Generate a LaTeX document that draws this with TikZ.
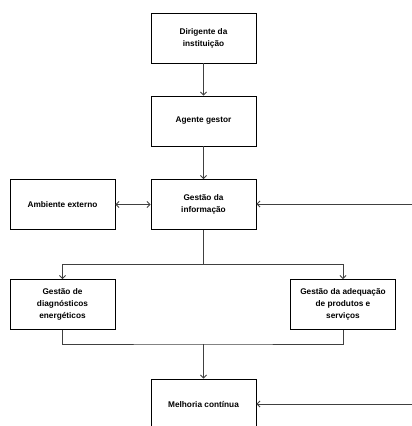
\documentclass[tikz,border=0pt]{standalone}
\usepackage{fontspec}
\setmainfont{Liberation Sans}
\usetikzlibrary{arrows.meta,calc}
\begin{document}
\begin{tikzpicture}[x=1bp,y=-1bp,
  box/.style={draw=black,line width=0.9bp,rectangle,minimum width=105bp,minimum height=50bp,inner sep=1bp,align=center,font=\fontsize{8.3}{12.3}\selectfont\bfseries},
  conn/.style={draw=black!75,line width=0.9bp},
  arr/.style={conn,-{Straight Barb[length=3bp,width=6bp]}},
  darr/.style={conn,{Straight Barb[length=3bp,width=6bp]}-{Straight Barb[length=3bp,width=6bp]}}]
\clip (0,0) rectangle (412,426);
\useasboundingbox (0,0) rectangle (412,426);
\node[box] (dir) at (203.5,38) {Dirigente da\\instituição};
\node[box] (age) at (203.5,121) {Agente gestor};
\node[box] (amb) at (62.5,204.5) {Ambiente externo};
\node[box] (gi) at (203.5,204.5) {Gestão da\\informação};
\node[box] (gd) at (62.5,304.5) {Gestão de\\diagnósticos\\energéticos};
\node[box] (ga) at (343,304.5) {Gestão da adequação\\de produtos e\\serviços};
\node[box,minimum height=52bp] (mel) at (203.5,405) {Melhoria contínua};
\coordinate (r1) at (412,204);
\coordinate (r2) at (412,404);
\coordinate (j1) at (203.5,264);
\coordinate (j2) at (203.5,344);
\draw[arr] (dir) -- (age);
\draw[arr] (age) -- (gi);
\draw[darr] (amb) -- (gi);
\draw[arr] (r1) -- (gi.east |- r1);
\draw[conn] (gi) -- (j1);
\draw[arr] (j1) -| (gd.north);
\draw[arr] (j1) -| (ga.north);
\draw[conn] (gd.south) |- (j2) -| (ga.south);
\draw[arr] (j2) -- (mel.north);
\draw[arr] (r2) -- (mel.east |- r2);
\end{tikzpicture}
\end{document}
